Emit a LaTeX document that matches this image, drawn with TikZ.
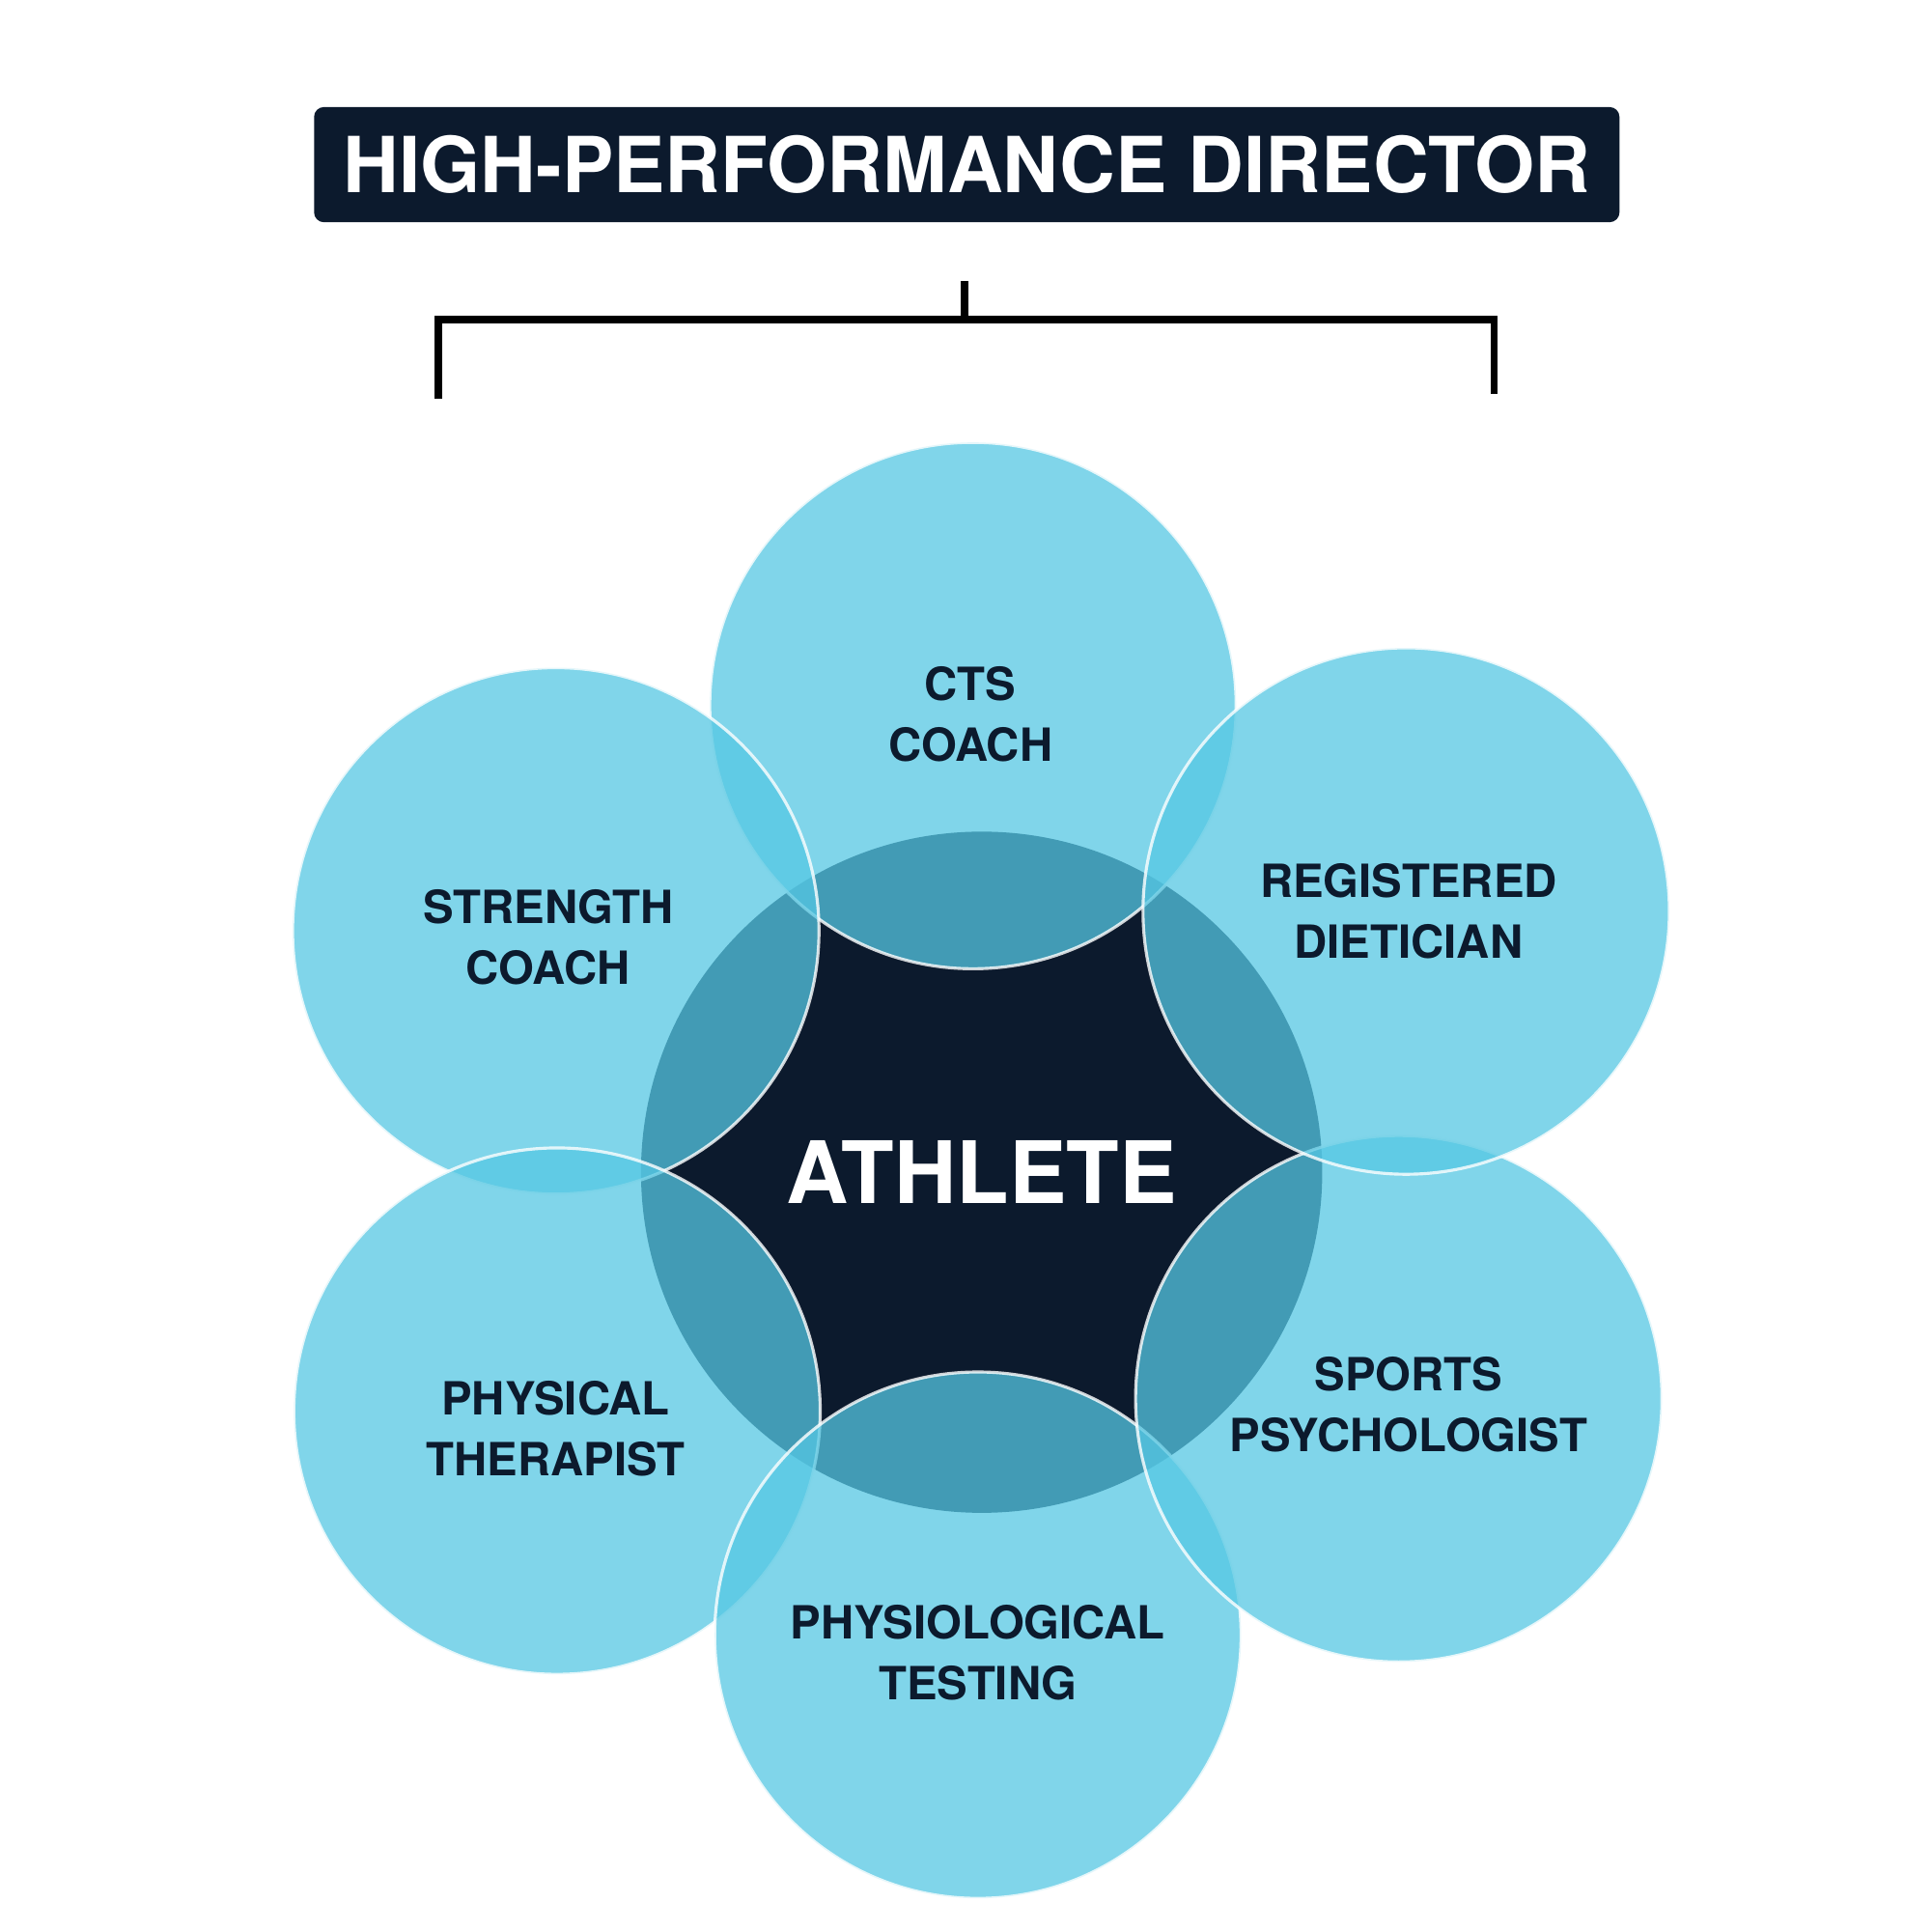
\documentclass[tikz,border=0pt]{standalone}
\usepackage{fontspec}
\setmainfont{TeX Gyre Heros}
\definecolor{navy}{HTML}{0C1A2D}
\definecolor{skyblue}{HTML}{55C7E3}
\begin{document}
\begin{tikzpicture}[x=0.01cm, y=-0.01cm,
	head/.style={fill=navy, text=white, rounded corners=0.08cm, minimum width=10.54cm, minimum height=0.93cm, inner sep=0, font=\fontsize{17.75}{20}\selectfont\bfseries},
	core/.style={circle, fill=navy, minimum size=5.5cm, inner sep=0, text=white, font=\fontsize{19.8}{22}\selectfont\bfseries},
	member/.style={circle, minimum size=4.25cm, inner sep=0, fill=skyblue, fill opacity=0.75, draw=white, draw opacity=0.8, line width=0.7pt},
	lbl/.style={align=center, inner sep=0, text=navy, font=\fontsize{10.5}{14}\selectfont\bfseries},
	bracket/.style={line width=1.7pt}]
	\useasboundingbox (2, 2) rectangle (1562, 1562);
	\node[head] (hpd) at (783, 135) {HIGH-PERFORMANCE DIRECTOR};
	\coordinate (stem) at (781, 229);
	\coordinate (bar) at (781, 260);
	\coordinate (leftleg) at (356, 324);
	\coordinate (rightleg) at (1209, 320);
	\draw[bracket] (stem) -- (bar);
	\draw[bracket] (leftleg) |- (bar) -| (rightleg);
	\node[core] (athlete) at (795, 949) {ATHLETE};
	\node[member] (cts) at (788, 572) {};
	\node[member] (strength) at (451, 754) {};
	\node[member] (therapist) at (452, 1142) {};
	\node[member] (testing) at (792, 1323) {};
	\node[member] (psych) at (1132, 1132) {};
	\node[member] (dietician) at (1138, 738) {};
	\node[lbl] (ctstext) at (786, 579) {CTS\\COACH};
	\node[lbl] (strengthtext) at (445, 759) {STRENGTH\\COACH};
	\node[lbl] (dieticiantext) at (1140, 738) {REGISTERED\\DIETICIAN};
	\node[lbl] (psychtext) at (1140, 1137) {SPORTS\\PSYCHOLOGIST};
	\node[lbl] (testingtext) at (792, 1337) {PHYSIOLOGICAL\\TESTING};
	\node[lbl] (therapisttext) at (451, 1156) {PHYSICAL\\THERAPIST};
\end{tikzpicture}
\end{document}
